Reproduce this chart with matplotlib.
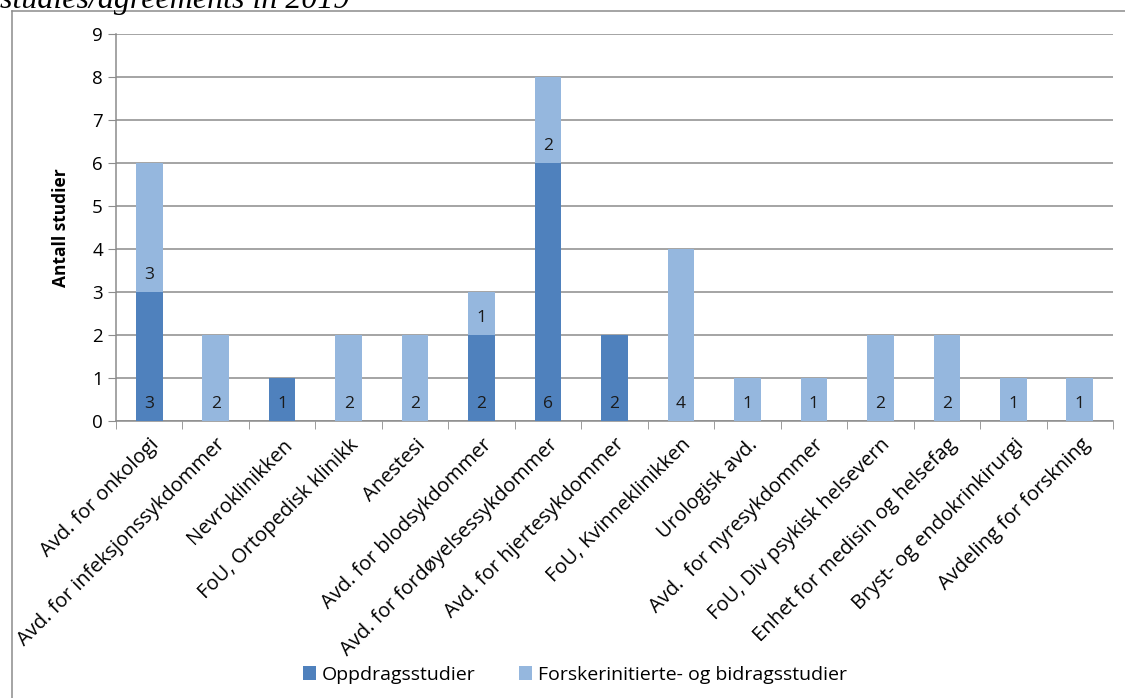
import matplotlib
matplotlib.use("Agg")
import matplotlib.pyplot as plt
from matplotlib.lines import Line2D
import numpy as np

categories = [
    "Avd. for onkologi",
    "Avd. for infeksjonssykdommer",
    "Nevroklinikken",
    "FoU, Ortopedisk klinikk",
    "Anestesi",
    "Avd. for blodsykdommer",
    "Avd. for fordøyelsessykdommer",
    "Avd. for hjertesykdommer",
    "FoU, Kvinneklinikken",
    "Urologisk avd.",
    "Avd.  for nyresykdommer",
    "FoU, Div psykisk helsevern",
    "Enhet for medisin og helsefag",
    "Bryst- og endokrinkirurgi",
    "Avdeling for forskning",
]
oppdrag = [3, 0, 1, 0, 0, 2, 6, 2, 0, 0, 0, 0, 0, 0, 0]
forsker = [3, 2, 0, 2, 2, 1, 2, 0, 4, 1, 1, 2, 2, 1, 1]
series_names = ["Oppdragsstudier", "Forskerinitierte- og bidragsstudier"]
yticks = list(range(0, 10))

dark = "#4F81BD"
light = "#95B7DE"
grid_c = "#8C8C8C"
font = "Open Sans"

plt.rcParams["font.family"] = [font, "DejaVu Sans"]

fig = plt.figure(figsize=(11.25, 6.98), dpi=100)
ax = fig.add_axes([116 / 1125, 1 - 421 / 698, (1113 - 116) / 1125, (421 - 34) / 698])

x = np.arange(len(categories))
w = 0.40
ax.bar(x, oppdrag, w, color=dark, label=series_names[0], zorder=3)
ax.bar(x, forsker, w, bottom=oppdrag, color=light, label=series_names[1], zorder=3)

# value labels at the inside base of each segment
for i in range(len(categories)):
    if oppdrag[i] > 0:
        ax.annotate(str(oppdrag[i]), (x[i], 0), xytext=(0, 6.5), textcoords="offset points",
                    ha="center", va="bottom", fontsize=12.5, color="#1a1a1a", zorder=4)
    if forsker[i] > 0:
        ax.annotate(str(forsker[i]), (x[i], oppdrag[i]), xytext=(0, 6.5), textcoords="offset points",
                    ha="center", va="bottom", fontsize=12.5, color="#1a1a1a", zorder=4)

ax.set_xlim(-0.5, len(categories) - 0.5)
ax.set_ylim(0, 9)
ax.set_yticks(yticks)
ax.set_yticklabels([str(t) for t in yticks], fontsize=13.5)
ax.yaxis.grid(True, color=grid_c, linewidth=1.1, zorder=0)

ax.set_xticks(x)
ax.set_xticklabels(categories, rotation=45, ha="right", va="top", rotation_mode="anchor",
                   fontsize=14.5)
ax.set_xticks(np.arange(-0.5, len(categories), 1), minor=True)
ax.tick_params(axis="x", which="major", length=0, pad=10)
ax.tick_params(axis="x", which="minor", length=5.5, color=grid_c, direction="out")
ax.tick_params(axis="y", length=5.8, color=grid_c, direction="out", pad=3.6)

for s in ["top", "right"]:
    ax.spines[s].set_visible(False)
for s in ["left", "bottom"]:
    ax.spines[s].set_color(grid_c)
    ax.spines[s].set_linewidth(1.1)

ax.set_ylabel("Antall studier", fontsize=12.5, fontweight="bold", labelpad=16)

leg = fig.legend(loc="center", bbox_to_anchor=(0.511, 1 - 675 / 698), ncol=2, frameon=False,
                 fontsize=14, handlelength=0.7, handleheight=0.7, columnspacing=2.2,
                 handletextpad=0.3)

# outer frame
fig.add_artist(Line2D([12 / 1125, 12 / 1125], [0, 1 - 11 / 698], transform=fig.transFigure,
                      color=grid_c, linewidth=1.1))
fig.add_artist(Line2D([12 / 1125, 1], [1 - 11 / 698, 1 - 11 / 698], transform=fig.transFigure,
                      color=grid_c, linewidth=1.1))

# heading line running off the top edge
fig.text(0.0, 1 - 8 / 698, "studies/agreements in 2019", fontsize=23, style="italic",
         family="Liberation Serif", ha="left", va="baseline")

fig.savefig("out.png", dpi=100)
